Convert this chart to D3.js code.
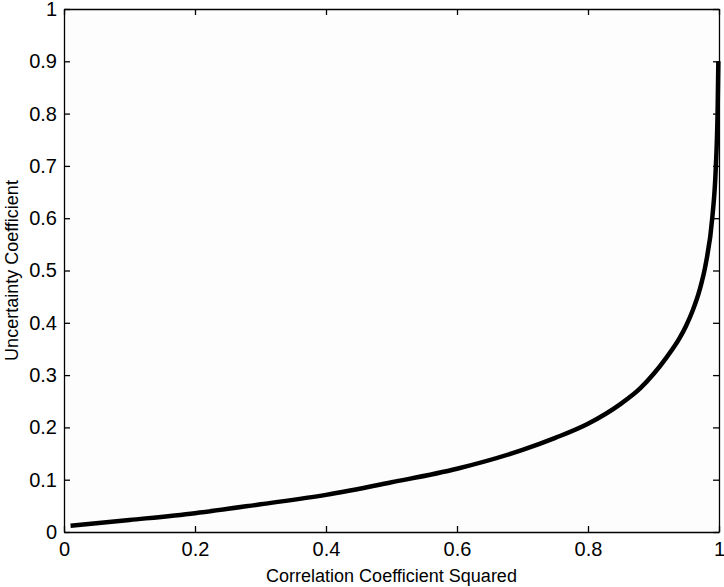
<!DOCTYPE html>
<html lang="en">
<head>
    <meta charset="UTF-8">
    <title>Uncertainty Coefficient vs Correlation Coefficient Squared</title>
    <script src="https://d3js.org/d3.v7.min.js"></script>
    <style>
        body { margin: 0; background: #fff; }
        .tick text { font: 20px "Liberation Sans", Arial, sans-serif; fill: #000; }
        .axis-label { font: 18px "Liberation Sans", Arial, sans-serif; fill: #000; }
        .curve { fill: none; stroke: #000; stroke-width: 4.5px; }
    </style>
</head>
<body>
    <svg width="724" height="587"></svg>

    <script>
        // Data
        const r2 = [0.01, 0.1, 0.2, 0.3, 0.4, 0.5, 0.6, 0.7, 0.75, 0.8, 0.85, 0.88, 0.9, 0.92, 0.94, 0.95, 0.96, 0.97, 0.98, 0.99, 0.995, 0.998, 0.999];
        const uc = [0.012, 0.023, 0.036, 0.053, 0.071, 0.095, 0.121, 0.157, 0.18, 0.207, 0.245, 0.275, 0.302, 0.334, 0.371, 0.395, 0.424, 0.461, 0.514, 0.604, 0.694, 0.813, 0.9];
        const xTicks = [0, 0.2, 0.4, 0.6, 0.8, 1];
        const yTicks = [0, 0.1, 0.2, 0.3, 0.4, 0.5, 0.6, 0.7, 0.8, 0.9, 1];

        const svg = d3.select("svg"),
            margin = { top: 9, right: 5, bottom: 55, left: 64 },
            width = +svg.attr("width") - margin.left - margin.right,
            height = +svg.attr("height") - margin.top - margin.bottom,
            g = svg.append("g").attr("transform", "translate(" + margin.left + "," + margin.top + ")");

        const x = d3.scaleLinear().domain([0, 1]).range([0, width]);
        const y = d3.scaleLinear().domain([0, 1]).range([height, 0]);

        // plot area background
        g.append("rect")
            .attr("width", width)
            .attr("height", height)
            .attr("fill", "#fdfdfd");

        const fmt = d => d3.format("~g")(d);

        // bottom / left axes with inward ticks
        g.append("g")
            .attr("transform", "translate(0," + height + ")")
            .call(d3.axisBottom(x).tickValues(xTicks).tickFormat(fmt).tickSizeInner(-6).tickSizeOuter(0).tickPadding(10));
        g.append("g")
            .call(d3.axisLeft(y).tickValues(yTicks).tickFormat(fmt).tickSizeInner(-6).tickSizeOuter(0).tickPadding(7));

        // top / right mirror axes, no labels
        g.append("g")
            .call(d3.axisTop(x).tickValues(xTicks).tickFormat("").tickSizeInner(-6).tickSizeOuter(0));
        g.append("g")
            .attr("transform", "translate(" + width + ",0)")
            .call(d3.axisRight(y).tickValues(yTicks).tickFormat("").tickSizeInner(-6).tickSizeOuter(0));

        g.selectAll(".domain").attr("stroke", "#000").attr("stroke-width", 1.3);
        g.selectAll(".tick line").attr("stroke", "#000").attr("stroke-width", 1.3);

        // the curve
        const line = d3.line()
            .x((d, i) => x(r2[i]))
            .y(d => y(d))
            .curve(d3.curveMonotoneX);

        g.append("path")
            .datum(uc)
            .attr("class", "curve")
            .attr("d", line);

        // axis labels
        svg.append("text")
            .attr("class", "axis-label")
            .attr("x", margin.left + width / 2)
            .attr("y", 582)
            .attr("text-anchor", "middle")
            .text("Correlation Coefficient Squared");

        svg.append("text")
            .attr("class", "axis-label")
            .attr("transform", "translate(18," + (margin.top + height / 2) + ") rotate(-90)")
            .attr("text-anchor", "middle")
            .text("Uncertainty Coefficient");
    </script>
</body>
</html>
